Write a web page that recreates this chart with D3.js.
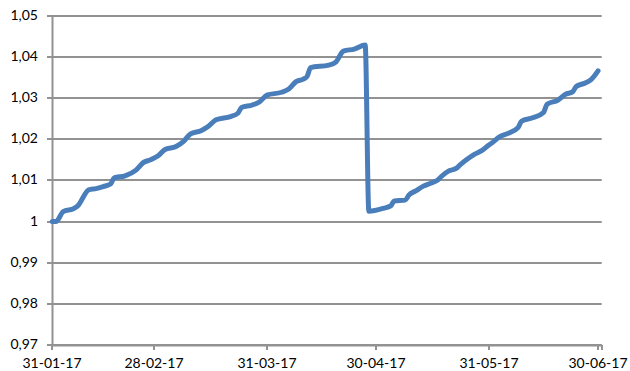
<!DOCTYPE html>
<html>
<head>
<meta charset="utf-8">
<script src="https://cdn.jsdelivr.net/npm/d3@7"></script>
<style>
  body { margin: 0; background: #fff; }
  svg text { font-family: Lato, "Open Sans", sans-serif; font-size: 14px; fill: #000; }
</style>
</head>
<body>
<svg id="chart" width="630" height="371"></svg>
<script>
// dates (dd-mm-yy) and index values
const dates = [
  '31-01-17', '01-02-17', '03-02-17', '06-02-17', '07-02-17', '10-02-17', '12-02-17',
  '14-02-17', '16-02-17', '17-02-17', '20-02-17', '23-02-17', '25-02-17', '27-02-17',
  '01-03-17', '03-03-17', '06-03-17', '08-03-17', '10-03-17', '13-03-17', '15-03-17',
  '17-03-17', '21-03-17', '23-03-17', '24-03-17', '27-03-17', '29-03-17', '31-03-17',
  '04-04-17', '06-04-17', '08-04-17', '10-04-17', '11-04-17', '12-04-17', '17-04-17',
  '19-04-17', '21-04-17', '24-04-17', '27-04-17', '28-04-17', '02-05-17', '04-05-17',
  '05-05-17', '08-05-17', '09-05-17', '11-05-17', '13-05-17', '15-05-17', '17-05-17',
  '18-05-17', '20-05-17', '22-05-17', '23-05-17', '25-05-17', '27-05-17', '29-05-17',
  '31-05-17', '01-06-17', '03-06-17', '05-06-17', '08-06-17', '09-06-17', '12-06-17',
  '15-06-17', '16-06-17', '19-06-17', '21-06-17', '23-06-17', '24-06-17', '26-06-17',
  '28-06-17', '30-06-17'
];
const values = [
  1.0000, 1.0000, 1.0024, 1.0032, 1.0038, 1.0077, 1.0080,
  1.0085, 1.0091, 1.0106, 1.0111, 1.0125, 1.0143, 1.0150,
  1.0159, 1.0175, 1.0182, 1.0194, 1.0213, 1.0221, 1.0232,
  1.0247, 1.0255, 1.0263, 1.0277, 1.0283, 1.0291, 1.0307,
  1.0314, 1.0322, 1.0340, 1.0346, 1.0352, 1.0374, 1.0380,
  1.0388, 1.0414, 1.0419, 1.0429, 1.0025, 1.0032, 1.0038,
  1.0050, 1.0052, 1.0064, 1.0075, 1.0086, 1.0093, 1.0101,
  1.0110, 1.0123, 1.0129, 1.0137, 1.0151, 1.0163, 1.0172,
  1.0186, 1.0192, 1.0206, 1.0213, 1.0228, 1.0244, 1.0252,
  1.0265, 1.0285, 1.0295, 1.0309, 1.0315, 1.0328, 1.0335,
  1.0344, 1.0366
];
const xTickLabels = ['31-01-17', '28-02-17', '31-03-17', '30-04-17', '31-05-17', '30-06-17'];
const yTicks = [0.97, 0.98, 0.99, 1.00, 1.01, 1.02, 1.03, 1.04, 1.05];
const xDomain = ['31-01-17', '01-07-17'];

const parse = d3.utcParse('%d-%m-%y');
const fmtX = d3.utcFormat('%d-%m-%y');
const fmtY = d => String(+d.toFixed(2)).replace('.', ',');

const margin = {left: 52.3, right: 28.3, top: 15.7, bottom: 26};
const width = 630, height = 371;
const gridColor = '#929292';

const svg = d3.select('#chart');

const sx = d3.scaleUtc()
  .domain(xDomain.map(parse))
  .range([margin.left, width - margin.right]);
const sy = d3.scaleLinear()
  .domain([0.97, 1.05])
  .range([height - margin.bottom, margin.top]);

const snap = v => Math.round(v);

// horizontal gridlines
svg.append('g')
  .selectAll('line')
  .data(yTicks)
  .join('line')
  .attr('x1', snap(sx.range()[0]))
  .attr('x2', sx.range()[1])
  .attr('y1', d => snap(sy(d)))
  .attr('y2', d => snap(sy(d)))
  .style('stroke', gridColor)
  .style('stroke-width', 2);

// y axis
const yAxis = d3.axisLeft(sy)
  .tickValues(yTicks)
  .tickFormat(fmtY)
  .tickSize(5)
  .tickPadding(9)
  .tickSizeOuter(0);
const gy = svg.append('g')
  .attr('transform', `translate(${snap(sx.range()[0])},0)`)
  .call(yAxis);
gy.selectAll('.tick').attr('transform', d => `translate(0,${snap(sy(d))})`);

// x axis
const xTicks = xTickLabels.map(parse).concat([parse(xDomain[1])]);
const xAxis = d3.axisBottom(sx)
  .tickValues(xTicks)
  .tickFormat(d => xTickLabels.includes(fmtX(d)) ? fmtX(d) : '')
  .tickSize(5)
  .tickPadding(8)
  .tickSizeOuter(0);
const gx = svg.append('g')
  .attr('transform', `translate(0,${snap(sy(0.97))})`)
  .call(xAxis);
gx.selectAll('.tick').attr('transform', d => `translate(${snap(sx(d))},0)`);

[gx, gy].forEach(g => {
  g.select('.domain').style('stroke', gridColor).style('stroke-width', 2);
  g.selectAll('.tick line').style('stroke', gridColor).style('stroke-width', 2);
  g.selectAll('.tick text').style('font-size', '14px').attr('fill', '#000');
});

// series
const points = dates.map((d, i) => ({date: parse(d), value: values[i]}));
const line = d3.line()
  .x(d => sx(d.date))
  .y(d => sy(d.value))
  .curve(d3.curveMonotoneX);

svg.append('path')
  .datum(points)
  .attr('d', line)
  .style('fill', 'none')
  .style('stroke', '#4a7ebb')
  .style('stroke-width', 5)
  .style('stroke-linejoin', 'round')
  .style('stroke-linecap', 'round');
</script>
</body>
</html>
